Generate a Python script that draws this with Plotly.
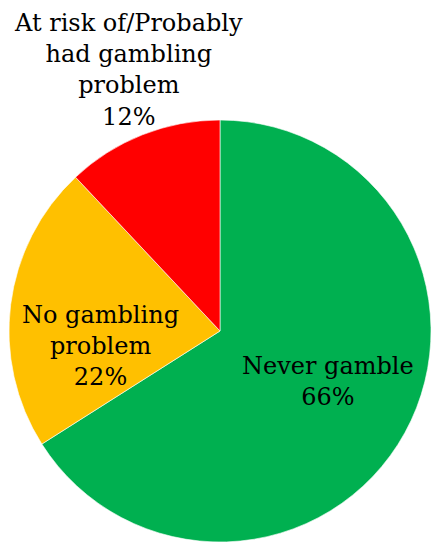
import plotly.graph_objects as go

# Gambling status breakdown
labels = ["Never gamble", "No gambling problem", "At risk of/Probably had gambling problem"]
values = [66, 22, 12]
colors = ["#00B050", "#FFC000", "#FF0000"]

# Line-wrapped label text as it is displayed
label_lines = [
    ["Never gamble"],
    ["No gambling", "problem"],
    ["At risk of/Probably", "had gambling", "problem"],
]

W, H = 431, 542

fig = go.Figure(
    go.Pie(
        labels=labels,
        values=values,
        marker=dict(colors=colors, line=dict(color="white", width=0.6)),
        sort=False,
        direction="clockwise",
        rotation=0,
        textinfo="none",
        hoverinfo="label+percent",
        domain=dict(x=[9 / W, 1.0], y=[0.0, 422 / H]),
        showlegend=False,
    )
)

# label anchor points (paper coordinates) for each slice
label_pos = [(328 / W, 1 - 381 / H), (100 / W, 1 - 346 / H), (128 / W, 1 - 70 / H)]

total = sum(values)
for lines, v, (x, y) in zip(label_lines, values, label_pos):
    pct = round(100 * v / total)
    fig.add_annotation(
        x=x, y=y, xref="paper", yref="paper",
        text="<br>".join(lines + [f"{pct}%"]),
        showarrow=False,
        font=dict(family="DejaVu Serif", size=24, color="black"),
        align="center",
        xanchor="center", yanchor="middle",
    )

fig.update_layout(
    width=W, height=H,
    margin=dict(l=0, r=0, t=0, b=0),
    paper_bgcolor="white",
    plot_bgcolor="white",
)

fig.write_html("out.html")
